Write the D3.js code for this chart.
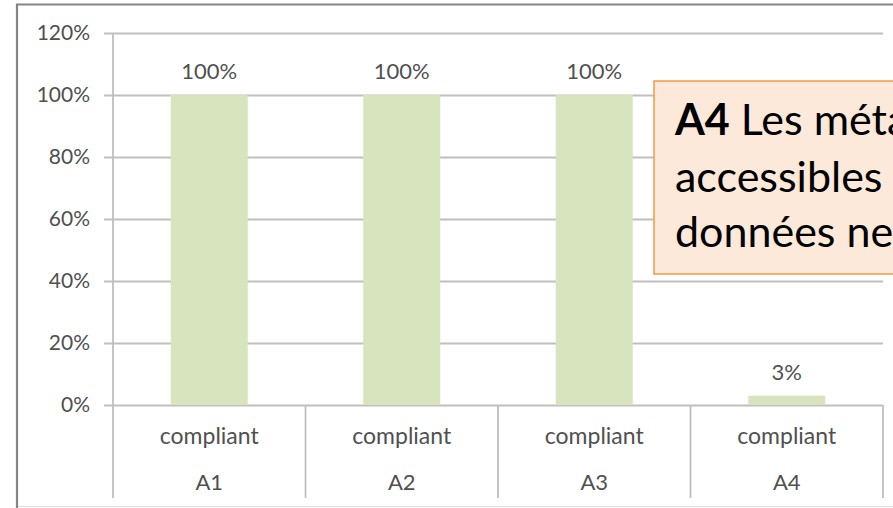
<!DOCTYPE html>
<html>
<head>
<meta charset="utf-8">
<script src="https://cdn.jsdelivr.net/npm/d3@7"></script>
<style>
  html, body { margin: 0; padding: 0; background: #fff; overflow: hidden; }
  svg { display: block; }
</style>
</head>
<body>
<svg id="chart" width="893" height="508"></svg>
<script>
// chart data
const categories = ['A1', 'A2', 'A3', 'A4'];
const series_label = 'compliant';
const values = [1.00, 1.00, 1.00, 0.03];
const y_ticks = [0, 0.2, 0.4, 0.6, 0.8, 1.0, 1.2];

// callout text, as far as it is visible in the original
const note_bold = 'A4';
const note_lines = [
  ' Les méta',
  'accessibles',
  'données ne'
];

let svg = d3.select('#chart');

const text_color = '#505050';
const grid_color = '#bfbfbf';
const font = 'Lato, "Liberation Sans", sans-serif';

/*
 * Outer frame of the chart picture.
 */
svg.append('rect')
  .attr('x', 17)
  .attr('y', 4.5)
  .attr('width', 1000)
  .attr('height', 502)
  .style('fill', 'white')
  .style('stroke', '#dcdcdc')
  .style('stroke-width', 1);

svg.append('path')
  .attr('d', 'M17,510 V4.5 H893')
  .style('fill', 'none')
  .style('stroke', '#858585')
  .style('stroke-width', 2.2);

let left = 113, right = 883, top_y = 33, base_y = 405, bottom_y = 498;

let x = d3.scaleBand()
  .domain(categories)
  .range([left, right])
  .paddingInner(0.6)
  .paddingOuter(0.3);

let y = d3.scaleLinear()
  .domain([0, 1.2])
  .range([base_y, top_y]);

/*
 * Y axis with gridlines.
 */
let y_axis = d3.axisLeft(y)
  .tickValues(y_ticks)
  .tickFormat(d3.format('.0%'))
  .tickSizeInner(-(right - left))
  .tickSizeOuter(0)
  .tickPadding(23);

let gy = svg.append('g')
  .attr('transform', 'translate(' + left + ',0)')
  .call(y_axis);

gy.select('.domain').remove();
gy.selectAll('.tick line')
  .attr('x1', -9)
  .style('stroke', grid_color)
  .style('stroke-width', 1.8);
gy.selectAll('.tick text')
  .style('font-family', font)
  .style('font-size', '21px')
  .style('fill', text_color);

// vertical axis line and category separators
let step = x.step();
for (let i = 0; i <= categories.length; i++) {
  let bx = left + i * step;
  svg.append('line')
    .attr('x1', bx)
    .attr('x2', bx)
    .attr('y1', i == 0 ? top_y : base_y)
    .attr('y2', bottom_y)
    .style('stroke', grid_color)
    .style('stroke-width', 1.8);
}

/*
 * Bars and data labels.
 */
svg.selectAll('.bar')
  .data(values)
  .join('rect')
  .attr('class', 'bar')
  .attr('x', (d, i) => x(categories[i]))
  .attr('y', d => y(d))
  .attr('width', x.bandwidth())
  .attr('height', d => base_y - y(d))
  .style('fill', '#d7e4bd');

svg.selectAll('.value')
  .data(values)
  .join('text')
  .attr('class', 'value')
  .attr('x', (d, i) => x(categories[i]) + x.bandwidth() / 2)
  .attr('y', d => y(d) - 16)
  .attr('text-anchor', 'middle')
  .style('font-family', font)
  .style('font-size', '22px')
  .style('fill', text_color)
  .text(d => d3.format('.0%')(d));

/*
 * Category labels (two levels).
 */
categories.forEach(function (c) {
  let cx = x(c) + x.bandwidth() / 2;
  svg.append('text')
    .attr('x', cx)
    .attr('y', 444)
    .attr('text-anchor', 'middle')
    .style('font-family', font)
    .style('font-size', '23px')
    .style('fill', text_color)
    .text(series_label);
  svg.append('text')
    .attr('x', cx)
    .attr('y', 490)
    .attr('text-anchor', 'middle')
    .style('font-family', font)
    .style('font-size', '22px')
    .style('fill', text_color)
    .text(c);
});

/*
 * Callout box.
 */
svg.append('rect')
  .attr('x', 654)
  .attr('y', 81)
  .attr('width', 400)
  .attr('height', 193)
  .style('fill', '#fde9d9')
  .style('stroke', '#f79646')
  .style('stroke-width', 1.5);

let note = svg.append('text')
  .style('font-family', font)
  .style('font-size', '43px')
  .style('fill', '#000');

let baselines = [135, 192, 247];
note_lines.forEach(function (line, i) {
  let t = note.append('tspan')
    .attr('x', 675)
    .attr('y', baselines[i]);
  if (i == 0) {
    t.append('tspan').style('font-weight', 'bold').text(note_bold);
    t.append('tspan').text(line);
  } else {
    t.text(line);
  }
});
</script>
</body>
</html>
